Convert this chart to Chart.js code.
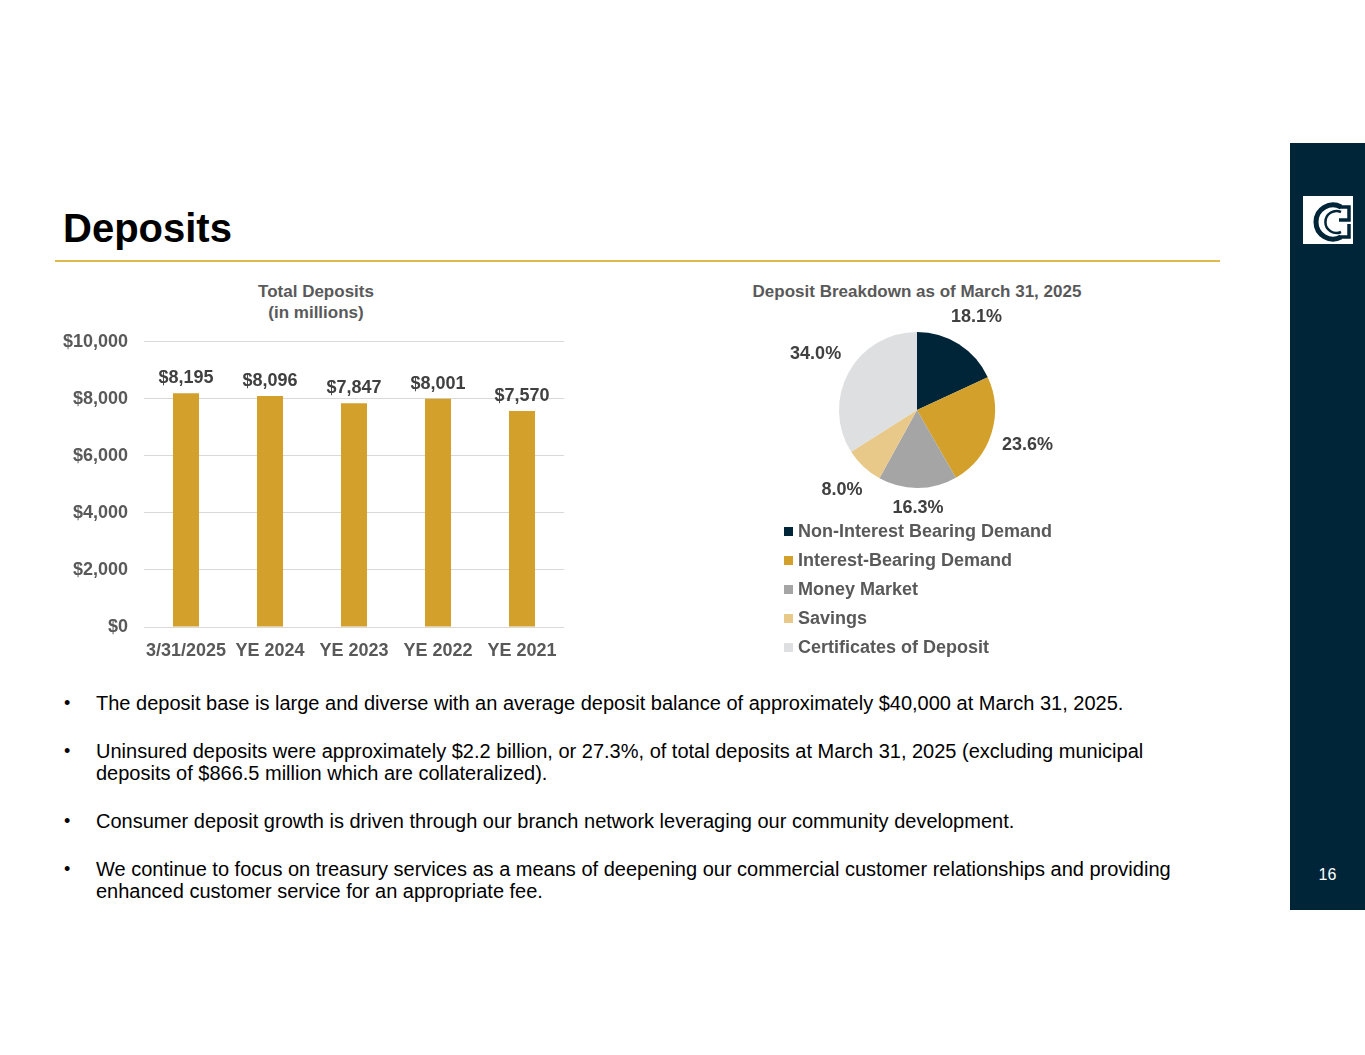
<!DOCTYPE html>
<html>
<head>
<meta charset="utf-8">
<script src="https://cdn.jsdelivr.net/npm/chart.js@4.4.1/dist/chart.umd.min.js"></script>
<style>
  html, body { margin: 0; padding: 0; background: #fff; }
  body { width: 1365px; height: 1055px; position: relative; overflow: hidden;
         font-family: "Liberation Sans", Arial, sans-serif; }
  .abs { position: absolute; }
  #title { left: 63px; top: 205px; font-size: 40px; font-weight: bold; color: #000; line-height: 46px; }
  #rule { left: 55px; top: 260px; width: 1165px; height: 2px; background: #e0b850; }
  .ctitle { font-size: 17px; font-weight: bold; color: #595959; text-align: center; line-height: 21px; }
  #sidebar { left: 1290px; top: 143px; width: 75px; height: 767px; background: #002538; }
  #pagenum { left: 1290px; top: 866px; width: 75px; text-align: center; color: #fff; font-size: 16px; }
  #legend { left: 784px; top: 519px; }
  .lg { height: 29px; line-height: 24px; font-size: 18px; font-weight: bold; color: #595959; white-space: nowrap; }
  .lg span.box { display: inline-block; width: 9px; height: 9px; margin-right: 5px; vertical-align: 1px; }
  #bullets { left: 64px; top: 692px; width: 1126px; font-size: 20px; color: #000; line-height: 22px; }
  .bl { position: relative; padding-left: 32px; margin-bottom: 26px; }
  .bl:before { content: "\2022"; position: absolute; left: 0; font-size: 18px; }
</style>
</head>
<body>

<div id="title" class="abs">Deposits</div>
<div id="rule" class="abs"></div>

<div class="abs ctitle" style="left:216px; top:281px; width:200px;">Total Deposits<br>(in millions)</div>
<canvas id="barChart" class="abs" width="530" height="355" style="left:50px; top:315px;"></canvas>

<div class="abs ctitle" style="left:717px; top:281px; width:400px;">Deposit Breakdown as of March 31, 2025</div>
<canvas id="pieChart" class="abs" width="320" height="220" style="left:757px; top:300px;"></canvas>
<div id="legend" class="abs"></div>

<div id="bullets" class="abs">
  <div class="bl">The deposit base is large and diverse with an average deposit balance of approximately $40,000 at March 31, 2025.</div>
  <div class="bl">Uninsured deposits were approximately $2.2 billion, or 27.3%, of total deposits at March 31, 2025 (excluding municipal deposits of $866.5 million which are collateralized).</div>
  <div class="bl">Consumer deposit growth is driven through our branch network leveraging our community development.</div>
  <div class="bl">We continue to focus on treasury services as a means of deepening our commercial customer relationships and providing enhanced customer service for an appropriate fee.</div>
</div>

<div id="sidebar" class="abs"></div>
<svg class="abs" style="left:1303px; top:196px;" width="50" height="48" viewBox="0 0 50 48">
  <rect x="0" y="0" width="50" height="48" fill="#fff"/>
  <path d="M38 11 A17 17 0 1 0 38 41" fill="none" stroke="#002538" stroke-width="5"/>
  <path d="M38 16 A11 11 0 1 0 38 36" fill="none" stroke="#002538" stroke-width="2.5"/>
  <path d="M36 11 L46 11 L46 24 L36 24" fill="none" stroke="#002538" stroke-width="3.5"/>
  <path d="M36 41 L46 41 L46 28" fill="none" stroke="#002538" stroke-width="3.5"/>
</svg>
<div id="pagenum" class="abs">16</div>

<script>
// bar chart data
const periods = ['3/31/2025', 'YE 2024', 'YE 2023', 'YE 2022', 'YE 2021'];
const totalDeposits = [8195, 8096, 7847, 8001, 7570];
const yTicks = [0, 2000, 4000, 6000, 8000, 10000];

// pie chart data
const depositTypes = ['Non-Interest Bearing Demand', 'Interest-Bearing Demand', 'Money Market', 'Savings', 'Certificates of Deposit'];
const depositShares = [18.1, 23.6, 16.3, 8.0, 34.0];
const pieColors = ['#002538', '#d3a02b', '#a5a5a5', '#e8c98a', '#dedfe0'];

const FONT = '"Liberation Sans", Arial, sans-serif';
const fmt = v => '$' + v.toLocaleString('en-US');

const barLabels = {
  id: 'barLabels',
  afterDatasetsDraw(chart) {
    const ctx = chart.ctx;
    ctx.save();
    ctx.font = 'bold 18px ' + FONT;
    ctx.fillStyle = '#404040';
    ctx.textAlign = 'center';
    ctx.textBaseline = 'bottom';
    chart.getDatasetMeta(0).data.forEach((bar, i) => {
      ctx.fillText(fmt(totalDeposits[i]), bar.x, bar.y - 6);
    });
    ctx.restore();
  }
};

new Chart(document.getElementById('barChart'), {
  type: 'bar',
  data: {
    labels: periods,
    datasets: [{
      data: totalDeposits,
      backgroundColor: '#d3a02b',
      categoryPercentage: 1,
      barPercentage: 0.31
    }]
  },
  options: {
    responsive: false,
    devicePixelRatio: 1,
    animation: false,
    layout: { padding: { top: 6, right: 16, left: 0, bottom: 0 } },
    plugins: { legend: { display: false }, tooltip: { enabled: false } },
    scales: {
      x: {
        grid: { display: false },
        border: { display: false },
        ticks: { color: '#595959', font: { family: FONT, size: 18, weight: 'bold' }, padding: 5, maxRotation: 0 },
        afterFit: s => { s.height = 43; }
      },
      y: {
        min: 0, max: 10000,
        afterBuildTicks: s => { s.ticks = yTicks.map(v => ({ value: v })); },
        grid: { color: '#d9d9d9', drawTicks: false },
        border: { display: false },
        ticks: { color: '#595959', font: { family: FONT, size: 18, weight: 'bold' }, padding: 16, callback: v => fmt(v) },
        afterFit: s => { s.width = 94; }
      }
    }
  },
  plugins: [barLabels]
});

const pieLabels = {
  id: 'pieLabels',
  afterDatasetsDraw(chart) {
    const ctx = chart.ctx;
    ctx.save();
    ctx.font = 'bold 18px ' + FONT;
    ctx.fillStyle = '#404040';
    ctx.textAlign = 'center';
    ctx.textBaseline = 'middle';
    chart.getDatasetMeta(0).data.forEach((arc, i) => {
      const txt = depositShares[i].toFixed(1) + '%';
      const mid = (arc.startAngle + arc.endAngle) / 2;
      const c = Math.cos(mid), s = Math.sin(mid);
      const w = ctx.measureText(txt).width;
      const d = arc.outerRadius + 11 + Math.abs(c) * w / 2 + Math.abs(s) * 9;
      ctx.fillText(txt, arc.x + c * d, arc.y + s * d);
    });
    ctx.restore();
  }
};

new Chart(document.getElementById('pieChart'), {
  type: 'pie',
  data: {
    labels: depositTypes,
    datasets: [{ data: depositShares, backgroundColor: pieColors, borderWidth: 0 }]
  },
  options: {
    responsive: false,
    devicePixelRatio: 1,
    animation: false,
    layout: { padding: { top: 32, bottom: 32, left: 0, right: 0 } },
    plugins: { legend: { display: false }, tooltip: { enabled: false } }
  },
  plugins: [pieLabels]
});

// legend built from the same arrays
const legend = document.getElementById('legend');
depositTypes.forEach((name, i) => {
  const row = document.createElement('div');
  row.className = 'lg';
  row.innerHTML = '<span class="box" style="background:' + pieColors[i] + '"></span>' + name;
  legend.appendChild(row);
});
</script>
</body>
</html>
